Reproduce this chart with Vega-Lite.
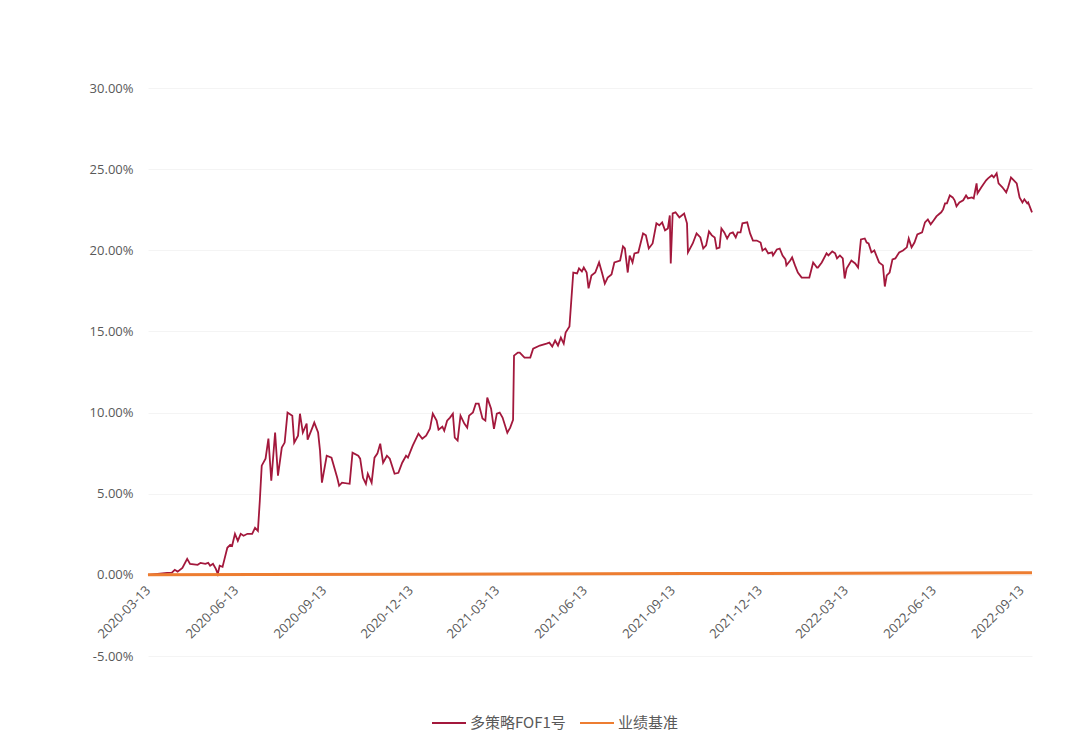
{
  "$schema": "https://vega.github.io/schema/vega-lite/v6.json",
  "width": 884,
  "height": 568,
  "autosize": {"type": "none"},
  "padding": {"left": 148, "top": 88, "right": 52, "bottom": 83},
  "background": "white",
  "config": {"view": {"stroke": null}, "font": "Noto Sans CJK SC"},
  "datasets": {
    "fund": [
      {"d": "2020-03-13", "v": 0},
      {"d": "2020-04-02", "v": 0.0012},
      {"d": "2020-04-07", "v": 0.0014},
      {"d": "2020-04-10", "v": 0.0031},
      {"d": "2020-04-13", "v": 0.0020},
      {"d": "2020-04-18", "v": 0.0043},
      {"d": "2020-04-23", "v": 0.0099},
      {"d": "2020-04-26", "v": 0.0068},
      {"d": "2020-05-04", "v": 0.0062},
      {"d": "2020-05-07", "v": 0.0074},
      {"d": "2020-05-12", "v": 0.0068},
      {"d": "2020-05-15", "v": 0.0074},
      {"d": "2020-05-17", "v": 0.0056},
      {"d": "2020-05-20", "v": 0.0068},
      {"d": "2020-05-23", "v": 0.0037},
      {"d": "2020-05-25", "v": 0.0006},
      {"d": "2020-05-27", "v": 0.0056},
      {"d": "2020-05-30", "v": 0.0049},
      {"d": "2020-06-04", "v": 0.0167},
      {"d": "2020-06-07", "v": 0.0185},
      {"d": "2020-06-09", "v": 0.0179},
      {"d": "2020-06-12", "v": 0.0253},
      {"d": "2020-06-15", "v": 0.0210},
      {"d": "2020-06-18", "v": 0.0253},
      {"d": "2020-06-21", "v": 0.0241},
      {"d": "2020-06-25", "v": 0.0253},
      {"d": "2020-06-30", "v": 0.0253},
      {"d": "2020-07-03", "v": 0.0290},
      {"d": "2020-07-06", "v": 0.0271},
      {"d": "2020-07-08", "v": 0.0457},
      {"d": "2020-07-10", "v": 0.0673},
      {"d": "2020-07-14", "v": 0.0716},
      {"d": "2020-07-17", "v": 0.0840},
      {"d": "2020-07-20", "v": 0.0580},
      {"d": "2020-07-24", "v": 0.0877},
      {"d": "2020-07-27", "v": 0.0611},
      {"d": "2020-07-31", "v": 0.0784},
      {"d": "2020-08-03", "v": 0.0815},
      {"d": "2020-08-06", "v": 0.1000},
      {"d": "2020-08-11", "v": 0.0981},
      {"d": "2020-08-13", "v": 0.0815},
      {"d": "2020-08-17", "v": 0.0858},
      {"d": "2020-08-19", "v": 0.0993},
      {"d": "2020-08-22", "v": 0.0877},
      {"d": "2020-08-26", "v": 0.0932},
      {"d": "2020-08-27", "v": 0.0833},
      {"d": "2020-09-01", "v": 0.0907},
      {"d": "2020-09-03", "v": 0.0938},
      {"d": "2020-09-07", "v": 0.0877},
      {"d": "2020-09-09", "v": 0.0765},
      {"d": "2020-09-11", "v": 0.0568},
      {"d": "2020-09-16", "v": 0.0734},
      {"d": "2020-09-21", "v": 0.0722},
      {"d": "2020-09-27", "v": 0.0598},
      {"d": "2020-09-29", "v": 0.0549},
      {"d": "2020-10-02", "v": 0.0568},
      {"d": "2020-10-10", "v": 0.0561},
      {"d": "2020-10-13", "v": 0.0753},
      {"d": "2020-10-19", "v": 0.0734},
      {"d": "2020-10-21", "v": 0.0716},
      {"d": "2020-10-24", "v": 0.0598},
      {"d": "2020-10-27", "v": 0.0561},
      {"d": "2020-10-29", "v": 0.0623},
      {"d": "2020-11-02", "v": 0.0568},
      {"d": "2020-11-05", "v": 0.0722},
      {"d": "2020-11-08", "v": 0.0747},
      {"d": "2020-11-11", "v": 0.0808},
      {"d": "2020-11-14", "v": 0.0691},
      {"d": "2020-11-18", "v": 0.0734},
      {"d": "2020-11-21", "v": 0.0716},
      {"d": "2020-11-26", "v": 0.0623},
      {"d": "2020-11-30", "v": 0.0629},
      {"d": "2020-12-04", "v": 0.0691},
      {"d": "2020-12-08", "v": 0.0734},
      {"d": "2020-12-10", "v": 0.0722},
      {"d": "2020-12-15", "v": 0.0796},
      {"d": "2020-12-21", "v": 0.0870},
      {"d": "2020-12-25", "v": 0.0839},
      {"d": "2020-12-29", "v": 0.0858},
      {"d": "2021-01-02", "v": 0.0900},
      {"d": "2021-01-05", "v": 0.0993},
      {"d": "2021-01-09", "v": 0.0950},
      {"d": "2021-01-11", "v": 0.0895},
      {"d": "2021-01-15", "v": 0.0913},
      {"d": "2021-01-17", "v": 0.0888},
      {"d": "2021-01-20", "v": 0.0950},
      {"d": "2021-01-23", "v": 0.0969},
      {"d": "2021-01-26", "v": 0.0993},
      {"d": "2021-01-28", "v": 0.0845},
      {"d": "2021-01-31", "v": 0.0827},
      {"d": "2021-02-03", "v": 0.0981},
      {"d": "2021-02-07", "v": 0.0932},
      {"d": "2021-02-10", "v": 0.0907},
      {"d": "2021-02-12", "v": 0.0981},
      {"d": "2021-02-16", "v": 0.1000},
      {"d": "2021-02-19", "v": 0.1055},
      {"d": "2021-02-22", "v": 0.1055},
      {"d": "2021-02-26", "v": 0.0963},
      {"d": "2021-03-01", "v": 0.0950},
      {"d": "2021-03-03", "v": 0.1092},
      {"d": "2021-03-07", "v": 0.1024},
      {"d": "2021-03-10", "v": 0.0900},
      {"d": "2021-03-13", "v": 0.0993},
      {"d": "2021-03-16", "v": 0.1000},
      {"d": "2021-03-19", "v": 0.0969},
      {"d": "2021-03-24", "v": 0.0876},
      {"d": "2021-03-27", "v": 0.0907},
      {"d": "2021-03-30", "v": 0.0956},
      {"d": "2021-03-31", "v": 0.1351},
      {"d": "2021-04-04", "v": 0.1370},
      {"d": "2021-04-06", "v": 0.1370},
      {"d": "2021-04-11", "v": 0.1339},
      {"d": "2021-04-17", "v": 0.1339},
      {"d": "2021-04-20", "v": 0.1394},
      {"d": "2021-04-27", "v": 0.1413},
      {"d": "2021-05-04", "v": 0.1425},
      {"d": "2021-05-07", "v": 0.1431},
      {"d": "2021-05-10", "v": 0.1407},
      {"d": "2021-05-13", "v": 0.1444},
      {"d": "2021-05-16", "v": 0.1413},
      {"d": "2021-05-19", "v": 0.1462},
      {"d": "2021-05-22", "v": 0.1425},
      {"d": "2021-05-24", "v": 0.1493},
      {"d": "2021-05-28", "v": 0.1530},
      {"d": "2021-06-01", "v": 0.1863},
      {"d": "2021-06-05", "v": 0.1857},
      {"d": "2021-06-07", "v": 0.1888},
      {"d": "2021-06-10", "v": 0.1870},
      {"d": "2021-06-12", "v": 0.1894},
      {"d": "2021-06-15", "v": 0.1863},
      {"d": "2021-06-17", "v": 0.1765},
      {"d": "2021-06-20", "v": 0.1845},
      {"d": "2021-06-24", "v": 0.1863},
      {"d": "2021-06-28", "v": 0.1925},
      {"d": "2021-07-01", "v": 0.1863},
      {"d": "2021-07-04", "v": 0.1795},
      {"d": "2021-07-07", "v": 0.1832},
      {"d": "2021-07-11", "v": 0.1851},
      {"d": "2021-07-14", "v": 0.1925},
      {"d": "2021-07-20", "v": 0.1937},
      {"d": "2021-07-23", "v": 0.2024},
      {"d": "2021-07-25", "v": 0.2011},
      {"d": "2021-07-28", "v": 0.1863},
      {"d": "2021-07-30", "v": 0.1968},
      {"d": "2021-08-02", "v": 0.1925},
      {"d": "2021-08-04", "v": 0.1981},
      {"d": "2021-08-08", "v": 0.1987},
      {"d": "2021-08-13", "v": 0.2104},
      {"d": "2021-08-16", "v": 0.2092},
      {"d": "2021-08-19", "v": 0.2011},
      {"d": "2021-08-23", "v": 0.2042},
      {"d": "2021-08-27", "v": 0.2166},
      {"d": "2021-08-30", "v": 0.2154},
      {"d": "2021-09-02", "v": 0.2172},
      {"d": "2021-09-05", "v": 0.2123},
      {"d": "2021-09-08", "v": 0.2135},
      {"d": "2021-09-10", "v": 0.2215},
      {"d": "2021-09-11", "v": 0.1919},
      {"d": "2021-09-13", "v": 0.2227},
      {"d": "2021-09-16", "v": 0.2234},
      {"d": "2021-09-20", "v": 0.2203},
      {"d": "2021-09-25", "v": 0.2227},
      {"d": "2021-09-28", "v": 0.2166},
      {"d": "2021-09-29", "v": 0.1987},
      {"d": "2021-10-04", "v": 0.2042},
      {"d": "2021-10-08", "v": 0.2104},
      {"d": "2021-10-12", "v": 0.2079},
      {"d": "2021-10-15", "v": 0.2011},
      {"d": "2021-10-18", "v": 0.2030},
      {"d": "2021-10-21", "v": 0.2116},
      {"d": "2021-10-24", "v": 0.2092},
      {"d": "2021-10-27", "v": 0.2079},
      {"d": "2021-10-29", "v": 0.2011},
      {"d": "2021-11-01", "v": 0.2017},
      {"d": "2021-11-03", "v": 0.2135},
      {"d": "2021-11-06", "v": 0.2110},
      {"d": "2021-11-09", "v": 0.2073},
      {"d": "2021-11-12", "v": 0.2104},
      {"d": "2021-11-15", "v": 0.2110},
      {"d": "2021-11-18", "v": 0.2079},
      {"d": "2021-11-20", "v": 0.2110},
      {"d": "2021-11-23", "v": 0.2110},
      {"d": "2021-11-25", "v": 0.2166},
      {"d": "2021-11-30", "v": 0.2172},
      {"d": "2021-12-03", "v": 0.2104},
      {"d": "2021-12-06", "v": 0.2060},
      {"d": "2021-12-10", "v": 0.2060},
      {"d": "2021-12-14", "v": 0.2048},
      {"d": "2021-12-16", "v": 0.1999},
      {"d": "2021-12-19", "v": 0.2011},
      {"d": "2021-12-22", "v": 0.1981},
      {"d": "2021-12-26", "v": 0.1987},
      {"d": "2021-12-27", "v": 0.1968},
      {"d": "2021-12-31", "v": 0.2005},
      {"d": "2022-01-03", "v": 0.2011},
      {"d": "2022-01-06", "v": 0.1968},
      {"d": "2022-01-09", "v": 0.1944},
      {"d": "2022-01-10", "v": 0.1907},
      {"d": "2022-01-14", "v": 0.1937},
      {"d": "2022-01-16", "v": 0.1956},
      {"d": "2022-01-19", "v": 0.1907},
      {"d": "2022-01-22", "v": 0.1863},
      {"d": "2022-01-26", "v": 0.1832},
      {"d": "2022-02-03", "v": 0.1832},
      {"d": "2022-02-07", "v": 0.1925},
      {"d": "2022-02-11", "v": 0.1894},
      {"d": "2022-02-12", "v": 0.1894},
      {"d": "2022-02-16", "v": 0.1925},
      {"d": "2022-02-21", "v": 0.1981},
      {"d": "2022-02-23", "v": 0.1968},
      {"d": "2022-02-27", "v": 0.1993},
      {"d": "2022-03-02", "v": 0.1981},
      {"d": "2022-03-04", "v": 0.1950},
      {"d": "2022-03-07", "v": 0.1968},
      {"d": "2022-03-10", "v": 0.1950},
      {"d": "2022-03-12", "v": 0.1826},
      {"d": "2022-03-14", "v": 0.1888},
      {"d": "2022-03-19", "v": 0.1937},
      {"d": "2022-03-23", "v": 0.1919},
      {"d": "2022-03-26", "v": 0.1894},
      {"d": "2022-03-29", "v": 0.2067},
      {"d": "2022-04-02", "v": 0.2073},
      {"d": "2022-04-04", "v": 0.2048},
      {"d": "2022-04-06", "v": 0.2042},
      {"d": "2022-04-09", "v": 0.1987},
      {"d": "2022-04-12", "v": 0.1999},
      {"d": "2022-04-17", "v": 0.1925},
      {"d": "2022-04-21", "v": 0.1907},
      {"d": "2022-04-23", "v": 0.1777},
      {"d": "2022-04-25", "v": 0.1845},
      {"d": "2022-04-28", "v": 0.1863},
      {"d": "2022-05-01", "v": 0.1944},
      {"d": "2022-05-04", "v": 0.1950},
      {"d": "2022-05-08", "v": 0.1987},
      {"d": "2022-05-12", "v": 0.1999},
      {"d": "2022-05-16", "v": 0.2018},
      {"d": "2022-05-18", "v": 0.2073},
      {"d": "2022-05-21", "v": 0.2018},
      {"d": "2022-05-24", "v": 0.2048},
      {"d": "2022-05-27", "v": 0.2098},
      {"d": "2022-06-01", "v": 0.2110},
      {"d": "2022-06-04", "v": 0.2172},
      {"d": "2022-06-07", "v": 0.2190},
      {"d": "2022-06-10", "v": 0.2160},
      {"d": "2022-06-13", "v": 0.2184},
      {"d": "2022-06-16", "v": 0.2209},
      {"d": "2022-06-21", "v": 0.2234},
      {"d": "2022-06-23", "v": 0.2252},
      {"d": "2022-06-25", "v": 0.2289},
      {"d": "2022-06-27", "v": 0.2289},
      {"d": "2022-06-30", "v": 0.2338},
      {"d": "2022-07-03", "v": 0.2326},
      {"d": "2022-07-05", "v": 0.2308},
      {"d": "2022-07-07", "v": 0.2271},
      {"d": "2022-07-10", "v": 0.2295},
      {"d": "2022-07-14", "v": 0.2308},
      {"d": "2022-07-17", "v": 0.2338},
      {"d": "2022-07-19", "v": 0.2320},
      {"d": "2022-07-23", "v": 0.2326},
      {"d": "2022-07-25", "v": 0.2320},
      {"d": "2022-07-28", "v": 0.2412},
      {"d": "2022-07-29", "v": 0.2351},
      {"d": "2022-08-02", "v": 0.2388},
      {"d": "2022-08-07", "v": 0.2431},
      {"d": "2022-08-09", "v": 0.2443},
      {"d": "2022-08-13", "v": 0.2462},
      {"d": "2022-08-15", "v": 0.2449},
      {"d": "2022-08-18", "v": 0.2474},
      {"d": "2022-08-20", "v": 0.2412},
      {"d": "2022-08-24", "v": 0.2388},
      {"d": "2022-08-28", "v": 0.2357},
      {"d": "2022-08-30", "v": 0.2388},
      {"d": "2022-09-02", "v": 0.2449},
      {"d": "2022-09-05", "v": 0.2431},
      {"d": "2022-09-08", "v": 0.2412},
      {"d": "2022-09-11", "v": 0.2326},
      {"d": "2022-09-14", "v": 0.2295},
      {"d": "2022-09-16", "v": 0.2314},
      {"d": "2022-09-19", "v": 0.2289},
      {"d": "2022-09-20", "v": 0.2295},
      {"d": "2022-09-24", "v": 0.2234}
    ],
    "bench": [
      {"d": "2020-03-13", "v": 0},
      {"d": "2020-12-31", "v": 0.0004},
      {"d": "2021-09-30", "v": 0.0008},
      {"d": "2022-09-24", "v": 0.0013}
    ]
  },
  "encoding": {
    "x": {
      "field": "d",
      "type": "temporal",
      "scale": {
        "type": "utc",
        "nice": false,
        "domain": [
          {"year": 2020, "month": 3, "date": 13, "utc": true},
          {"year": 2022, "month": 9, "date": 24, "utc": true}
        ]
      },
      "axis": {
        "title": null,
        "labelExpr": "utcFormat(datum.value, '%Y-%m-%d')",
        "values": [
          {"year": 2020, "month": 3, "date": 13, "utc": true},
          {"year": 2020, "month": 6, "date": 13, "utc": true},
          {"year": 2020, "month": 9, "date": 13, "utc": true},
          {"year": 2020, "month": 12, "date": 13, "utc": true},
          {"year": 2021, "month": 3, "date": 13, "utc": true},
          {"year": 2021, "month": 6, "date": 13, "utc": true},
          {"year": 2021, "month": 9, "date": 13, "utc": true},
          {"year": 2021, "month": 12, "date": 13, "utc": true},
          {"year": 2022, "month": 3, "date": 13, "utc": true},
          {"year": 2022, "month": 6, "date": 13, "utc": true},
          {"year": 2022, "month": 9, "date": 13, "utc": true}
        ],
        "labelAngle": -45,
        "labelAlign": "right",
        "labelBaseline": "middle",
        "labelPadding": 14,
        "offset": -82,
        "domain": false,
        "ticks": false,
        "grid": false,
        "labelOverlap": false,
        "labelBound": false,
        "labelFlush": false,
        "labelFont": "Open Sans",
        "labelFontSize": 13,
        "labelColor": "#595959"
      }
    },
    "y": {
      "field": "v",
      "type": "quantitative",
      "scale": {"domain": [-0.05, 0.3], "nice": false, "zero": false},
      "axis": {
        "title": null,
        "values": [-0.05, 0, 0.05, 0.1, 0.15, 0.2, 0.25, 0.3],
        "labelExpr": "replace(format(datum.value, '.2%'), '\u2212', '-')",
        "domain": false,
        "ticks": false,
        "grid": true,
        "gridColor": "#f4f4f4",
        "labelPadding": 15,
        "labelFont": "Open Sans",
        "labelFontSize": 13,
        "labelColor": "#595959"
      }
    }
  },
  "layer": [
    {
      "data": {"name": "fund"},
      "mark": {"type": "line", "strokeWidth": 1.8},
      "encoding": {
        "color": {
          "datum": "多策略FOF1号",
          "type": "nominal",
          "scale": {"domain": ["多策略FOF1号", "业绩基准"], "range": ["#A3183C", "#ED7D31"]},
          "legend": {
            "title": null,
            "orient": "none",
            "legendX": 283,
            "legendY": 617,
            "direction": "horizontal",
            "symbolType": "stroke",
            "symbolSize": 1156,
            "symbolStrokeWidth": 2,
            "labelFont": "Noto Sans CJK SC",
            "labelFontSize": 15,
            "labelColor": "#595959",
            "labelOffset": 3,
            "columnPadding": 10
          }
        }
      }
    },
    {
      "data": {"name": "bench"},
      "mark": {"type": "line", "strokeWidth": 3},
      "encoding": {
        "color": {"datum": "业绩基准", "type": "nominal"}
      }
    }
  ]
}
